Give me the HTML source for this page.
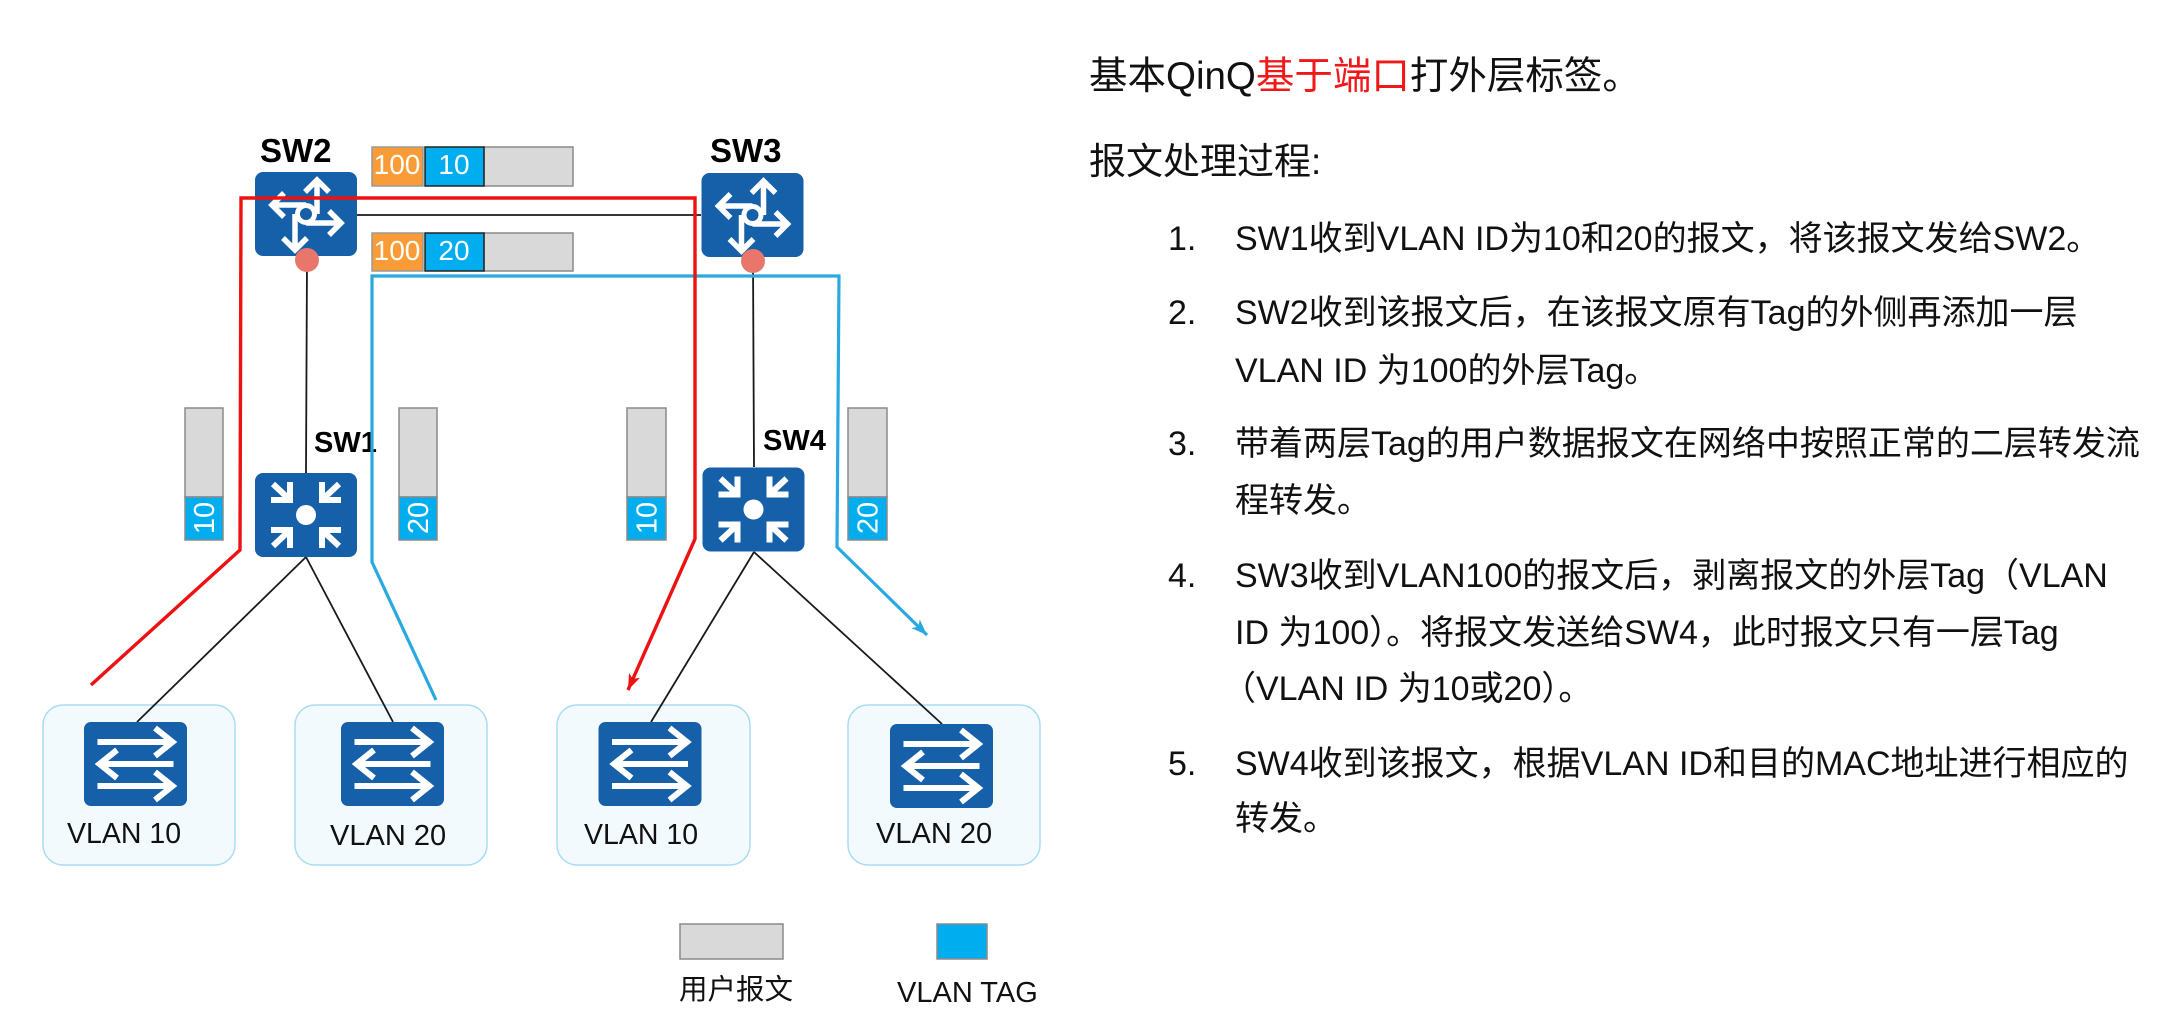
<!DOCTYPE html>
<html>
<head>
<meta charset="utf-8">
<style>
  html, body { margin: 0; padding: 0; background: #ffffff; }
  body { width: 2161px; height: 1018px; overflow: hidden; }
  svg { display: block; }
  text { font-family: "Liberation Sans", "Noto Sans CJK SC", sans-serif; }
</style>
</head>
<body>
<svg width="2161" height="1018" viewBox="0 0 2161 1018" xmlns="http://www.w3.org/2000/svg">
  <defs>
    <marker id="arrRed" markerUnits="userSpaceOnUse" markerWidth="20" markerHeight="14" refX="16" refY="6" orient="auto">
      <path d="M0,0 L16,6 L0,12 L4,6 z" fill="#ee1111"/>
    </marker>
    <marker id="arrBlue" markerUnits="userSpaceOnUse" markerWidth="20" markerHeight="14" refX="16" refY="6" orient="auto">
      <path d="M0,0 L16,6 L0,12 L4,6 z" fill="#29a9e0"/>
    </marker>
  </defs>

  <rect x="0" y="0" width="2161" height="1018" fill="#ffffff"/>

  <!-- VLAN boxes -->
  <rect x="43" y="705" width="192" height="160" rx="20" fill="#f2fafe" stroke="#a9dcf2" stroke-width="1.5"/>
  <rect x="295" y="705" width="192" height="160" rx="20" fill="#f2fafe" stroke="#a9dcf2" stroke-width="1.5"/>
  <rect x="557" y="705" width="193" height="160" rx="20" fill="#f2fafe" stroke="#a9dcf2" stroke-width="1.5"/>
  <rect x="848" y="705" width="192" height="160" rx="20" fill="#f2fafe" stroke="#a9dcf2" stroke-width="1.5"/>

  <!-- black links -->
  <g stroke="#1a1a1a" stroke-width="1.8" fill="none">
    <line x1="357" y1="215" x2="701" y2="215"/>
    <line x1="307" y1="260" x2="306" y2="473"/>
    <line x1="753" y1="261" x2="754" y2="467"/>
    <line x1="306" y1="557" x2="137" y2="722"/>
    <line x1="306" y1="557" x2="393" y2="722"/>
    <line x1="754" y1="552" x2="651" y2="722"/>
    <line x1="754" y1="552" x2="942" y2="724"/>
  </g>

  <!-- access switches -->
  <g transform="translate(135.5,764)">
    <rect x="-51.5" y="-42" width="103" height="84" rx="7" fill="#1660a9"/>
    <g stroke="#fff" stroke-width="6" fill="none">
      <path d="M-38,-22 H36 M19.5,-36 L37,-22 L19.5,-8"/>
      <path d="M38,0 H-36 M-18.5,-14 L-36,0 L-18.5,14"/>
      <path d="M-38,22 H36 M19.5,8 L37,22 L19.5,36"/>
    </g>
  </g>
  <g transform="translate(392.5,764)">
    <rect x="-51.5" y="-42" width="103" height="84" rx="7" fill="#1660a9"/>
    <g stroke="#fff" stroke-width="6" fill="none">
      <path d="M-38,-22 H36 M19.5,-36 L37,-22 L19.5,-8"/>
      <path d="M38,0 H-36 M-18.5,-14 L-36,0 L-18.5,14"/>
      <path d="M-38,22 H36 M19.5,8 L37,22 L19.5,36"/>
    </g>
  </g>
  <g transform="translate(650,764)">
    <rect x="-51.5" y="-42" width="103" height="84" rx="7" fill="#1660a9"/>
    <g stroke="#fff" stroke-width="6" fill="none">
      <path d="M-38,-22 H36 M19.5,-36 L37,-22 L19.5,-8"/>
      <path d="M38,0 H-36 M-18.5,-14 L-36,0 L-18.5,14"/>
      <path d="M-38,22 H36 M19.5,8 L37,22 L19.5,36"/>
    </g>
  </g>
  <g transform="translate(941.5,766)">
    <rect x="-51.5" y="-42" width="103" height="84" rx="7" fill="#1660a9"/>
    <g stroke="#fff" stroke-width="6" fill="none">
      <path d="M-38,-22 H36 M19.5,-36 L37,-22 L19.5,-8"/>
      <path d="M38,0 H-36 M-18.5,-14 L-36,0 L-18.5,14"/>
      <path d="M-38,22 H36 M19.5,8 L37,22 L19.5,36"/>
    </g>
  </g>

  <!-- VLAN labels -->
  <text x="67" y="843" font-size="28.5" fill="#111">VLAN 10</text>
  <text x="330" y="845" font-size="29" fill="#111">VLAN 20</text>
  <text x="584" y="844" font-size="28.5" fill="#111">VLAN 10</text>
  <text x="876" y="843" font-size="29" fill="#111">VLAN 20</text>

  <!-- aggregation switches SW1 / SW4 -->
  <g transform="translate(306,515)">
    <rect x="-51" y="-42" width="102" height="84" rx="8" fill="#1660a9"/>
    <circle r="10" fill="#fff"/>
    <g stroke="#fff" stroke-width="6" fill="none">
      <path d="M-35,-15 H-16 V-33"/><path d="M-33,-31 L-17,-16"/>
      <path d="M35,-15 H16 V-33"/><path d="M33,-31 L17,-16"/>
      <path d="M-35,15 H-16 V33"/><path d="M-33,31 L-17,16"/>
      <path d="M35,15 H16 V33"/><path d="M33,31 L17,16"/>
    </g>
  </g>
  <g transform="translate(753.5,509.5)">
    <rect x="-51" y="-42" width="102" height="84" rx="8" fill="#1660a9"/>
    <circle r="10" fill="#fff"/>
    <g stroke="#fff" stroke-width="6" fill="none">
      <path d="M-35,-15 H-16 V-33"/><path d="M-33,-31 L-17,-16"/>
      <path d="M35,-15 H16 V-33"/><path d="M33,-31 L17,-16"/>
      <path d="M-35,15 H-16 V33"/><path d="M-33,31 L-17,16"/>
      <path d="M35,15 H16 V33"/><path d="M33,31 L17,16"/>
    </g>
  </g>

  <!-- routers SW2 / SW3 -->
  <g transform="translate(306,214)">
    <rect x="-51" y="-42" width="102" height="84" rx="8" fill="#1660a9"/>
    <g stroke="#fff" stroke-width="5.5" fill="none">
      <path d="M11,0 V-34 M-1,-22 L11,-34 L23,-22"/>
      <path d="M0,-9 H-34 M-22,-21 L-34,-9 L-22,3"/>
      <path d="M0,9 H35 M23,-3 L35,9 L23,21"/>
      <path d="M-11,0 V36 M-23,24 L-11,36 L1,24"/>
    </g>
    <circle r="8.5" fill="#1660a9" stroke="#fff" stroke-width="5"/>
  </g>
  <g transform="translate(752.5,215)">
    <rect x="-51" y="-42" width="102" height="84" rx="8" fill="#1660a9"/>
    <g stroke="#fff" stroke-width="5.5" fill="none">
      <path d="M11,0 V-34 M-1,-22 L11,-34 L23,-22"/>
      <path d="M0,-9 H-34 M-22,-21 L-34,-9 L-22,3"/>
      <path d="M0,9 H35 M23,-3 L35,9 L23,21"/>
      <path d="M-11,0 V36 M-23,24 L-11,36 L1,24"/>
    </g>
    <circle r="8.5" fill="#1660a9" stroke="#fff" stroke-width="5"/>
  </g>

  <!-- SW labels -->
  <text x="260" y="162" font-size="33" font-weight="bold" fill="#000">SW2</text>
  <text x="710" y="162" font-size="33" font-weight="bold" fill="#000">SW3</text>
  <text x="314" y="452" font-size="29" font-weight="bold" fill="#000">SW1</text>
  <text x="763" y="450" font-size="29" font-weight="bold" fill="#000">SW4</text>

  <!-- red dots -->
  <circle cx="307" cy="260" r="12" fill="#e8766a"/>
  <circle cx="753" cy="261" r="12" fill="#e8766a"/>

  <!-- horizontal tags -->
  <rect x="372" y="147" width="51" height="39" fill="#f99b37" stroke="#9a9a9a" stroke-width="1.5"/>
  <rect x="484" y="147" width="89" height="39" fill="#d9d9d9" stroke="#8a8a8a" stroke-width="1.5"/>
  <rect x="425" y="147" width="59" height="39" fill="#00aeef" stroke="#222" stroke-width="1.5"/>
  <text x="397" y="174" font-size="28" fill="#fff" text-anchor="middle">100</text>
  <text x="454" y="174" font-size="28" fill="#fff" text-anchor="middle">10</text>

  <rect x="372" y="233" width="51" height="38" fill="#f99b37" stroke="#9a9a9a" stroke-width="1.5"/>
  <rect x="484" y="233" width="89" height="38" fill="#d9d9d9" stroke="#8a8a8a" stroke-width="1.5"/>
  <rect x="425" y="233" width="59" height="38" fill="#00aeef" stroke="#222" stroke-width="1.5"/>
  <text x="397" y="260" font-size="28" fill="#fff" text-anchor="middle">100</text>
  <text x="454" y="260" font-size="28" fill="#fff" text-anchor="middle">20</text>

  <!-- vertical packets -->
  <g stroke="#8a8a8a" stroke-width="1.5">
    <rect x="185" y="408" width="38" height="89" fill="#d9d9d9"/>
    <rect x="185" y="497" width="38" height="43" fill="#00aeef"/>
    <rect x="399" y="408" width="38" height="89" fill="#d9d9d9"/>
    <rect x="399" y="497" width="38" height="43" fill="#00aeef"/>
    <rect x="627" y="408" width="39" height="89" fill="#d9d9d9"/>
    <rect x="627" y="497" width="39" height="43" fill="#00aeef"/>
    <rect x="848" y="408" width="39" height="89" fill="#d9d9d9"/>
    <rect x="848" y="497" width="39" height="43" fill="#00aeef"/>
  </g>
  <text transform="translate(204,518) rotate(-90)" y="10" font-size="29" fill="#fff" text-anchor="middle">10</text>
  <text transform="translate(418,518) rotate(-90)" y="10" font-size="29" fill="#fff" text-anchor="middle">20</text>
  <text transform="translate(646.5,518) rotate(-90)" y="10" font-size="29" fill="#fff" text-anchor="middle">10</text>
  <text transform="translate(867.5,518) rotate(-90)" y="10" font-size="29" fill="#fff" text-anchor="middle">20</text>

  <!-- flow paths -->
  <path d="M436,700 L372,562 L372,276 L839,276 L837,547 L927,635" fill="none" stroke="#29a9e0" stroke-width="3.2" marker-end="url(#arrBlue)"/>
  <path d="M91,685 L240,550 L241,198 L695,198 L695,539 L628,690" fill="none" stroke="#ee1111" stroke-width="3.4" marker-end="url(#arrRed)"/>

  <!-- legend -->
  <rect x="680" y="924" width="103" height="35" fill="#d9d9d9" stroke="#8a8a8a" stroke-width="1.5"/>
  <rect x="937" y="924" width="50" height="35" fill="#00aeef" stroke="#8a8a8a" stroke-width="1.5"/>
  <text x="679" y="999" font-size="28.5" fill="#111">用户报文</text>
  <text x="897" y="1002" font-size="29" fill="#111">VLAN TAG</text>

  <!-- right side text -->
  <text x="1089" y="89" font-size="38.5" fill="#111">基本QinQ<tspan fill="#f01818">基于端口</tspan>打外层标签。</text>
  <text x="1089" y="174" font-size="37" fill="#111">报文处理过程:</text>

  <g font-size="34" fill="#111">
    <text x="1168" y="250">1.</text>
    <text x="1235" y="250">SW1收到VLAN ID为10和20的报文，将该报文发给SW2。</text>

    <text x="1168" y="324">2.</text>
    <text x="1235" y="324">SW2收到该报文后，在该报文原有Tag的外侧再添加一层</text>
    <text x="1235" y="382">VLAN ID 为100的外层Tag。</text>

    <text x="1168" y="455">3.</text>
    <text x="1235" y="455">带着两层Tag的用户数据报文在网络中按照正常的二层转发流</text>
    <text x="1235" y="512">程转发。</text>

    <text x="1168" y="587">4.</text>
    <text x="1235" y="587">SW3收到VLAN100的报文后，剥离报文的外层Tag（VLAN</text>
    <text x="1235" y="644">ID 为100）。将报文发送给SW4，此时报文只有一层Tag</text>
    <text x="1222" y="700">（VLAN ID 为10或20）。</text>

    <text x="1168" y="775">5.</text>
    <text x="1235" y="775">SW4收到该报文，根据VLAN ID和目的MAC地址进行相应的</text>
    <text x="1235" y="830">转发。</text>
  </g>
</svg>
</body>
</html>
